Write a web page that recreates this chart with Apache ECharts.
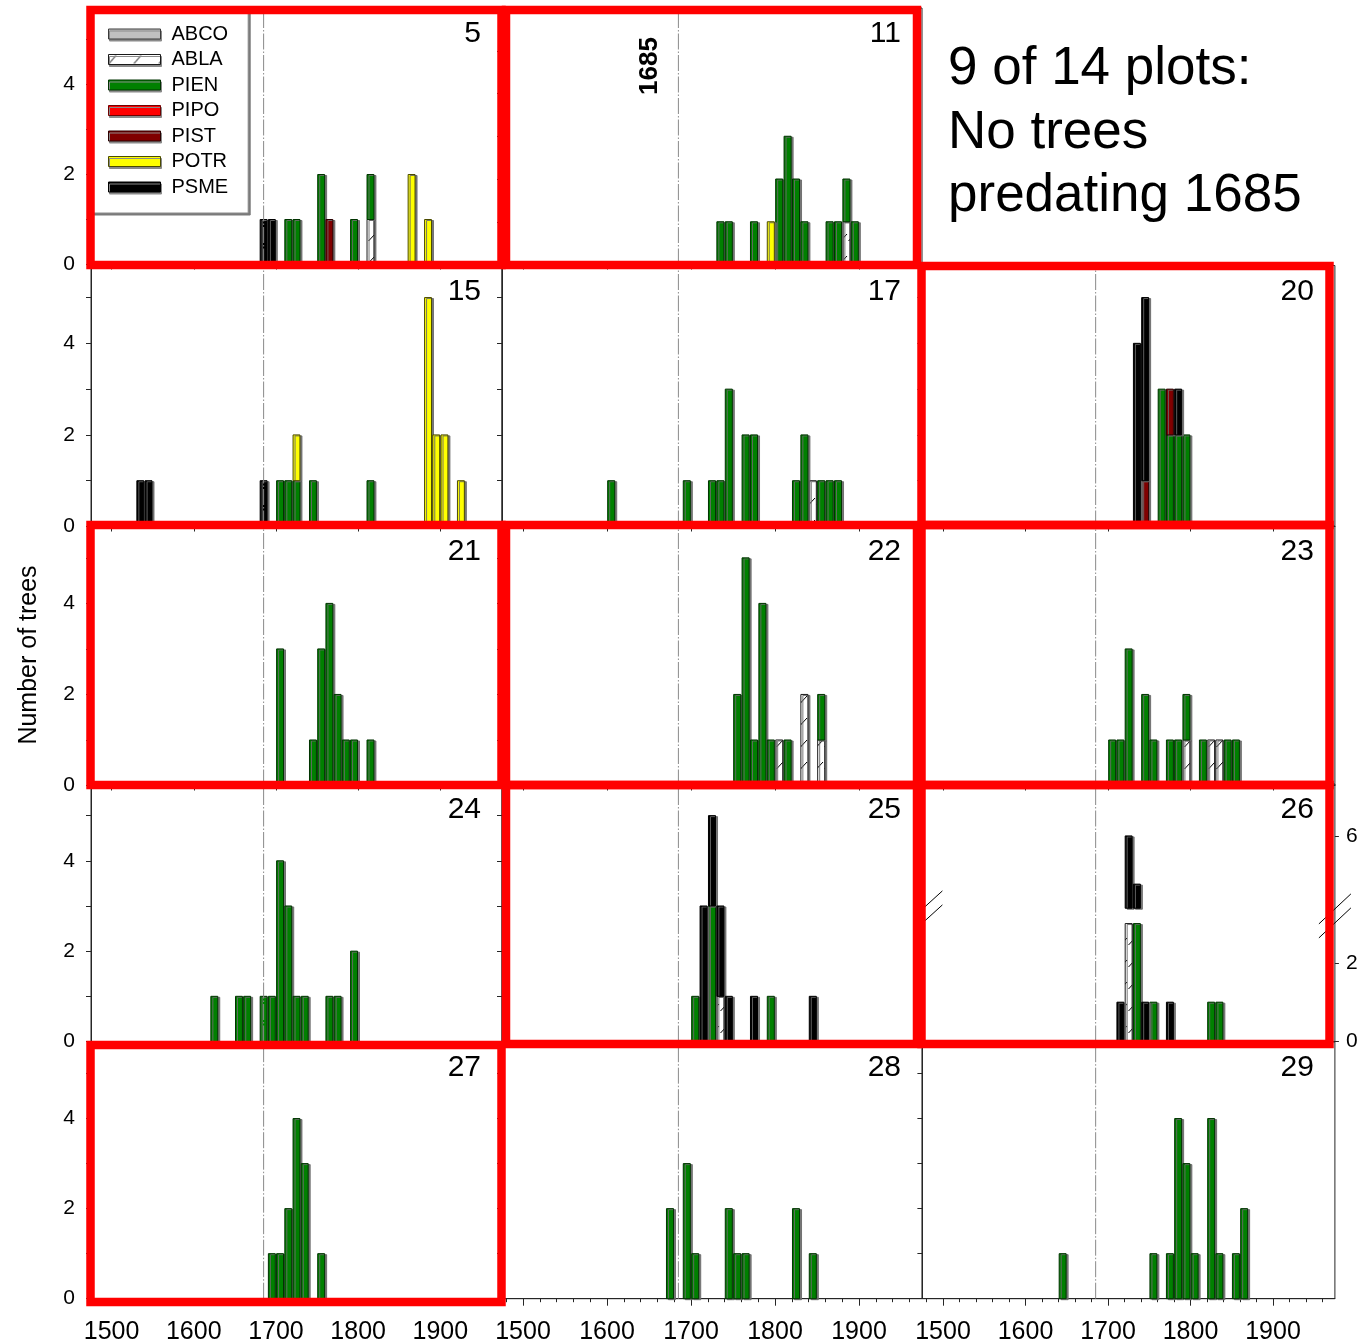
<!DOCTYPE html>
<html>
<head>
<meta charset="utf-8">
<title>Tree establishment by decade, 14 plots</title>
<script src="https://cdn.jsdelivr.net/npm/echarts@6.0.0/dist/echarts.min.js"></script>
<style>
  html, body { margin: 0; padding: 0; background: #ffffff; }
  #chart { width: 1363px; height: 1344px; }
</style>
</head>
<body>
<div id="chart"></div>
<script>
// Species codes, in stacking order (bottom to top) and legend order
const SPECIES = ['ABCO', 'ABLA', 'PIEN', 'PIPO', 'PIST', 'POTR', 'PSME'];

// Establishment counts per plot: [decade start, species, number of trees]
const plot5 = [
  [1680, 'PSME', 1], [1690, 'PSME', 1], [1710, 'PIEN', 1], [1720, 'PIEN', 1],
  [1750, 'PIEN', 2], [1760, 'PIST', 1], [1790, 'PIEN', 1], [1810, 'ABLA', 1],
  [1810, 'PIEN', 1], [1860, 'POTR', 2], [1880, 'POTR', 1]
];
const plot11 = [
  [1730, 'PIEN', 1], [1740, 'PIEN', 1], [1770, 'PIEN', 1], [1790, 'POTR', 1],
  [1800, 'PIEN', 2], [1810, 'PIEN', 3], [1820, 'PIEN', 2], [1830, 'PIEN', 1],
  [1860, 'PIEN', 1], [1870, 'PIEN', 1], [1880, 'ABLA', 1], [1880, 'PIEN', 1],
  [1890, 'PIEN', 1]
];
const plot15 = [
  [1530, 'PSME', 1], [1540, 'PSME', 1], [1680, 'PSME', 1], [1700, 'PIEN', 1],
  [1710, 'PIEN', 1], [1720, 'PIEN', 1], [1720, 'POTR', 1], [1740, 'PIEN', 1],
  [1810, 'PIEN', 1], [1880, 'POTR', 5], [1890, 'POTR', 2], [1900, 'POTR', 2],
  [1920, 'POTR', 1]
];
const plot17 = [
  [1600, 'PIEN', 1], [1690, 'PIEN', 1], [1720, 'PIEN', 1], [1730, 'PIEN', 1],
  [1740, 'PIEN', 3], [1760, 'PIEN', 2], [1770, 'PIEN', 2], [1820, 'PIEN', 1],
  [1830, 'PIEN', 2], [1840, 'ABLA', 1], [1850, 'PIEN', 1], [1860, 'PIEN', 1],
  [1870, 'PIEN', 1]
];
const plot20 = [
  [1730, 'PSME', 4], [1740, 'PIST', 1], [1740, 'PSME', 4], [1760, 'PIEN', 3],
  [1770, 'PIEN', 2], [1770, 'PIST', 1], [1780, 'PIEN', 2], [1780, 'PSME', 1],
  [1790, 'PIEN', 2]
];
const plot21 = [
  [1700, 'PIEN', 3], [1740, 'PIEN', 1], [1750, 'PIEN', 3], [1760, 'PIEN', 4],
  [1770, 'PIEN', 2], [1780, 'PIEN', 1], [1790, 'PIEN', 1], [1810, 'PIEN', 1]
];
const plot22 = [
  [1750, 'PIEN', 2], [1760, 'PIEN', 5], [1770, 'PIEN', 1], [1780, 'PIEN', 4],
  [1790, 'PIEN', 1], [1800, 'ABLA', 1], [1810, 'PIEN', 1], [1830, 'ABLA', 2],
  [1850, 'ABLA', 1], [1850, 'PIEN', 1]
];
const plot23 = [
  [1700, 'PIEN', 1], [1710, 'PIEN', 1], [1720, 'PIEN', 3], [1740, 'PIEN', 2],
  [1750, 'PIEN', 1], [1770, 'PIEN', 1], [1780, 'PIEN', 1], [1790, 'ABLA', 1],
  [1790, 'PIEN', 1], [1810, 'PIEN', 1], [1820, 'ABLA', 1], [1830, 'ABLA', 1],
  [1840, 'PIEN', 1], [1850, 'PIEN', 1]
];
const plot24 = [
  [1620, 'PIEN', 1], [1650, 'PIEN', 1], [1660, 'PIEN', 1], [1680, 'PIEN', 1],
  [1690, 'PIEN', 1], [1700, 'PIEN', 4], [1710, 'PIEN', 3], [1720, 'PIEN', 1],
  [1730, 'PIEN', 1], [1760, 'PIEN', 1], [1770, 'PIEN', 1], [1790, 'PIEN', 2]
];
const plot25 = [
  [1700, 'PIEN', 1], [1710, 'PSME', 3], [1720, 'PIEN', 3], [1720, 'PSME', 2],
  [1730, 'ABLA', 1], [1730, 'PSME', 2], [1740, 'PSME', 1], [1770, 'PSME', 1],
  [1790, 'PIEN', 1], [1840, 'PSME', 1]
];
const plot26 = [
  [1710, 'PSME', 1], [1720, 'ABLA', 3], [1720, 'PSME', 3], [1730, 'PIEN', 3],
  [1730, 'PSME', 1], [1740, 'PSME', 1], [1750, 'PIEN', 1], [1770, 'PSME', 1],
  [1820, 'PIEN', 1], [1830, 'PIEN', 1]
];
const plot27 = [
  [1690, 'PIEN', 1], [1700, 'PIEN', 1], [1710, 'PIEN', 2], [1720, 'PIEN', 4],
  [1730, 'PIEN', 3], [1750, 'PIEN', 1]
];
const plot28 = [
  [1670, 'PIEN', 2], [1690, 'PIEN', 3], [1700, 'PIEN', 1], [1740, 'PIEN', 2],
  [1750, 'PIEN', 1], [1760, 'PIEN', 1], [1820, 'PIEN', 2], [1840, 'PIEN', 1]
];
const plot29 = [
  [1640, 'PIEN', 1], [1750, 'PIEN', 1], [1770, 'PIEN', 1], [1780, 'PIEN', 4],
  [1790, 'PIEN', 3], [1800, 'PIEN', 1], [1820, 'PIEN', 4], [1830, 'PIEN', 1],
  [1850, 'PIEN', 1], [1860, 'PIEN', 2]
];

// Axis ticks and labels
const YEAR_TICKS = [1500, 1600, 1700, 1800, 1900];
const YEAR_MINOR_TICKS = [1480, 1500, 1520, 1540, 1560, 1580, 1600, 1620, 1640, 1660, 1680,
  1700, 1720, 1740, 1760, 1780, 1800, 1820, 1840, 1860, 1880, 1900, 1920, 1940, 1960];
const COUNT_TICKS = [0, 1, 2, 3, 4, 5];
const COUNT_LABELS = [0, 2, 4];
const PLOT26_RIGHT_LABELS = [0, 2, 6];
const MARKER_YEAR = 1685;

const BIN_WIDTH = 10;
const YEAR_MIN = 1475;
const YEAR_MAX = 1975;
const COUNT_MAX = 5.7;
const FONT = '"Liberation Sans", Arial, Helvetica, sans-serif';
const AXIS_COLOR = '#262626';

// Panel geometry (pixels)
const COLS = [
  { left: 91, width: 411 },
  { left: 502, width: 420 },
  { left: 922.4, width: 412.5 }
];
const ROWS = [
  { top: 8, height: 256.5 },
  { top: 265.5, height: 261 },
  { top: 526, height: 259.5 },
  { top: 784, height: 257.5 },
  { top: 1042, height: 256.7 }
];
const COL_FRAME = [[90.5, 501.5], [506, 917], [921.5, 1329.5]];
const ROW_FRAME = [[10, 265], [266, 525], [525, 785], [785, 1044], [1045, 1302]];

const PANELS = [
  { label: '5', bins: plot5, col: 0, row: 0 },
  { label: '11', bins: plot11, col: 1, row: 0, yMax: 6 },
  { label: '15', bins: plot15, col: 0, row: 1 },
  { label: '17', bins: plot17, col: 1, row: 1 },
  { label: '20', bins: plot20, col: 2, row: 1 },
  { label: '21', bins: plot21, col: 0, row: 2 },
  { label: '22', bins: plot22, col: 1, row: 2 },
  { label: '23', bins: plot23, col: 2, row: 2 },
  { label: '24', bins: plot24, col: 0, row: 3 },
  { label: '25', bins: plot25, col: 1, row: 3 },
  { label: '26', bins: plot26, col: 2, row: 3, yMax: 6.55,
    axisBreak: { at: 3, gap: 0.39, scale: 0.613 }, rightLabels: PLOT26_RIGHT_LABELS },
  { label: '27', bins: plot27, col: 0, row: 4 },
  { label: '28', bins: plot28, col: 1, row: 4 },
  { label: '29', bins: plot29, col: 2, row: 4 }
];

// Sparse diagonal hatch used for ABLA
function hatch(w, h, dx, dy) {
  const c = document.createElement('canvas');
  c.width = w; c.height = h;
  const g = c.getContext('2d');
  g.fillStyle = '#ffffff';
  g.fillRect(0, 0, w, h);
  g.strokeStyle = '#000000';
  g.lineWidth = 1;
  g.beginPath();
  g.moveTo(0.5, h - 1);
  g.lineTo(0.5 + dx, h - 1 - dy);
  g.stroke();
  return c;
}
const BAR_HATCH = { image: hatch(8, 22, 6.5, 7), repeat: 'repeat' };
const KEY_HATCH = { image: hatch(25, 10, 7, 8), repeat: 'repeat' };

const FILL = {
  ABCO: '#c0c0c0', ABLA: BAR_HATCH, PIEN: '#008000', PIPO: '#ff0000',
  PIST: '#800000', POTR: '#ffff00', PSME: '#000000'
};
const EDGE = {
  ABCO: '#3a3a3a', ABLA: '#1a1a1a', PIEN: '#003300', PIPO: '#700000',
  PIST: '#2a0000', POTR: '#4a4a00', PSME: '#000000'
};

// Value -> axis position, compressing counts above an axis break
function toAxis(v, brk, isBase) {
  if (!brk || v < brk.at || (v === brk.at && !isBase)) return v;
  return brk.at + brk.gap + (v - brk.at) * brk.scale;
}
function fromAxis(v, brk) {
  if (!brk || v <= brk.at) return v;
  return brk.at + (v - brk.at - brk.gap) / brk.scale;
}

// Stack each decade's species counts: [bin centre, bottom, top]
function stackBins(bins, brk) {
  const out = {};
  SPECIES.forEach(s => { out[s] = []; });
  const decades = Array.from(new Set(bins.map(b => b[0]))).sort((a, b) => a - b);
  decades.forEach(d => {
    let base = 0;
    SPECIES.forEach(sp => {
      const n = bins.filter(b => b[0] === d && b[1] === sp).reduce((s, b) => s + b[2], 0);
      if (!n) return;
      const top = base + n;
      out[sp].push([d + BIN_WIDTH / 2, toAxis(base, brk, true), toAxis(top, brk, false)]);
      base = top;
    });
  });
  return out;
}

function barRenderer(sp) {
  return function (params, api) {
    const x = api.value(0);
    const lo = api.coord([x, api.value(1)]);
    const hi = api.coord([x, api.value(2)]);
    const w = api.size([BIN_WIDTH, 0])[0] * 0.84;
    return {
      type: 'rect',
      shape: { x: lo[0] - w / 2, y: hi[1], width: w, height: lo[1] - hi[1] },
      style: {
        fill: FILL[sp], stroke: EDGE[sp], lineWidth: 1,
        shadowColor: 'rgba(105,105,105,0.9)', shadowOffsetX: 2, shadowOffsetY: 1, shadowBlur: 0
      }
    };
  };
}

const grid = [], xAxis = [], yAxis = [], series = [], graphic = [];
const earliestCentre = p => Math.min.apply(null, p.bins.map(b => b[0])) + BIN_WIDTH / 2;
const noEarlyTrees = PANELS.filter(p => earliestCentre(p) >= MARKER_YEAR);

PANELS.forEach((p, i) => {
  const c = COLS[p.col], r = ROWS[p.row];
  const bottomRow = p.row === ROWS.length - 1;
  const yMax = p.yMax || COUNT_MAX;
  const brk = p.axisBreak || null;

  grid.push({
    left: c.left, top: r.top, width: c.width, height: r.height,
    show: true, borderColor: AXIS_COLOR, borderWidth: 1,
    backgroundColor: 'transparent', containLabel: false, outerBoundsMode: 'none'
  });

  const xi = xAxis.length;
  xAxis.push({
    type: 'value', gridIndex: i, position: 'bottom', min: YEAR_MIN, max: YEAR_MAX,
    axisLine: { show: true, onZero: false, lineStyle: { color: AXIS_COLOR, width: 1 } },
    axisTick: { show: true, inside: false, length: bottomRow ? 7 : 5, customValues: YEAR_TICKS,
      lineStyle: { color: AXIS_COLOR, width: 1 } },
    axisLabel: { show: bottomRow, customValues: YEAR_TICKS, margin: 21, fontSize: 25,
      color: '#000', fontFamily: FONT, formatter: v => String(v) },
    splitLine: { show: false }
  });
  if (bottomRow) {
    xAxis.push({
      type: 'value', gridIndex: i, position: 'bottom', min: YEAR_MIN, max: YEAR_MAX,
      axisLine: { show: false },
      axisTick: { show: true, inside: false, length: 3.5, customValues: YEAR_MINOR_TICKS,
        lineStyle: { color: AXIS_COLOR, width: 1 } },
      axisLabel: { show: false },
      splitLine: { show: false }
    });
  }

  let ticks = COUNT_TICKS.filter(v => v < yMax);
  if (brk) {
    ticks = [];
    for (let v = 0; v < 10; v++) {
      const a = toAxis(v, brk, false);
      if (a < yMax) ticks.push(a);
    }
  }
  const yi = yAxis.length;
  yAxis.push({
    type: 'value', gridIndex: i, position: 'left', min: 0, max: yMax,
    axisLine: { show: true, onZero: false, lineStyle: { color: AXIS_COLOR, width: 1 } },
    axisTick: { show: true, inside: false, length: 5, customValues: ticks,
      lineStyle: { color: AXIS_COLOR, width: 1 } },
    axisLabel: { show: p.col === 0, customValues: COUNT_LABELS, margin: 16, fontSize: 21,
      color: '#000', fontFamily: FONT },
    splitLine: { show: false }
  });
  if (p.rightLabels) {
    const vals = p.rightLabels.map(v => toAxis(v, brk, false));
    yAxis.push({
      type: 'value', gridIndex: i, position: 'right', min: 0, max: yMax,
      axisLine: { show: false },
      axisTick: { show: true, inside: false, length: 4, customValues: vals,
        lineStyle: { color: AXIS_COLOR, width: 1 } },
      axisLabel: { show: true, customValues: vals, margin: 11, fontSize: 21, color: '#000',
        fontFamily: FONT, formatter: v => String(Math.round(fromAxis(v, brk))) },
      splitLine: { show: false }
    });
  }

  const segs = stackBins(p.bins, brk);
  SPECIES.forEach(sp => {
    series.push({
      type: 'custom', name: sp, xAxisIndex: xi, yAxisIndex: yi,
      renderItem: barRenderer(sp), data: segs[sp], encode: { x: 0, y: [1, 2] },
      itemStyle: { color: FILL[sp], borderColor: EDGE[sp], borderWidth: 1 },
      silent: true, z: 2, clip: false
    });
  });

  // reference year line
  series.push({
    type: 'line', xAxisIndex: xi, yAxisIndex: yi, silent: true, z: 5,
    data: [[MARKER_YEAR, 0], [MARKER_YEAR, yMax]], symbol: 'none',
    lineStyle: { color: '#8a8a8a', width: 1, type: [16, 2, 1.5, 2] }
  });

  // plot number
  graphic.push({
    type: 'text', x: c.left + c.width - 21, y: r.top + 26, z: 50,
    style: { text: p.label, fontSize: 30, fontFamily: FONT, fill: '#000',
      align: 'right', verticalAlign: 'middle' }
  });

  // axis break marks
  if (brk) {
    const mid = brk.at + brk.gap / 2;
    const ym = r.top + r.height * (1 - mid / yMax);
    const xl = c.left, xr = c.left + c.width;
    [-7, 7].forEach(off => {
      graphic.push({ type: 'line', z: 60,
        shape: { x1: xl - 2, y1: ym - 8 + off + 10, x2: xl + 20, y2: ym - 8 + off - 10 },
        style: { stroke: '#000', lineWidth: 1 } });
      graphic.push({ type: 'line', z: 60,
        shape: { x1: xr - 16, y1: ym + off + 15, x2: xr + 16, y2: ym + off - 15 },
        style: { stroke: '#000', lineWidth: 1 } });
    });
  }
});

// highlight frames for plots without trees older than the marker year
noEarlyTrees.forEach(p => {
  const cx = COL_FRAME[p.col], ry = ROW_FRAME[p.row];
  graphic.push({
    type: 'rect', z: 100,
    shape: { x: cx[0], y: ry[0], width: cx[1] - cx[0], height: ry[1] - ry[0] },
    style: { fill: 'none', stroke: '#ff0000', lineWidth: 8.5 }
  });
});

graphic.push({
  type: 'text', x: 948, y: 38, z: 50,
  style: {
    text: noEarlyTrees.length + ' of ' + PANELS.length + ' plots:\nNo trees\npredating ' + MARKER_YEAR,
    fontSize: 53, lineHeight: 63.5, fontFamily: FONT, fill: '#000',
    align: 'left', verticalAlign: 'top'
  }
});
graphic.push({
  type: 'text', x: 29, y: 655, rotation: Math.PI / 2, z: 50,
  style: { text: 'Number of trees', fontSize: 25, fontFamily: FONT, fill: '#000',
    align: 'center', verticalAlign: 'middle' }
});
graphic.push({
  type: 'text', x: 650, y: 66, rotation: Math.PI / 2, z: 50,
  style: { text: String(MARKER_YEAR), fontSize: 26, fontWeight: 'bold', fontFamily: FONT,
    fill: '#000', align: 'center', verticalAlign: 'middle' }
});

const chart = echarts.init(document.getElementById('chart'), null, { renderer: 'canvas' });
chart.setOption({
  animation: false,
  backgroundColor: '#ffffff',
  textStyle: { fontFamily: FONT },
  legend: {
    data: SPECIES.map(sp => ({
      name: sp,
      itemStyle: {
        color: sp === 'ABLA' ? KEY_HATCH : FILL[sp], borderColor: EDGE[sp], borderWidth: 1,
        shadowColor: '#8a8a8a', shadowOffsetX: 1, shadowOffsetY: 2, shadowBlur: 0
      }
    })),
    orient: 'vertical', left: 91, top: 10,
    icon: 'rect', itemWidth: 52, itemHeight: 10, itemGap: 5.5,
    padding: [14, 20, 16, 17],
    backgroundColor: '#ffffff', borderColor: '#8a8a8a', borderWidth: 1,
    shadowColor: '#7a7a7a', shadowOffsetX: 2, shadowOffsetY: 2, shadowBlur: 0,
    selectedMode: false,
    textStyle: { fontSize: 20, lineHeight: 20, color: '#000', fontFamily: FONT, padding: [0, 0, 0, 6] }
  },
  grid: grid,
  xAxis: xAxis,
  yAxis: yAxis,
  series: series,
  graphic: graphic
});
</script>
</body>
</html>
